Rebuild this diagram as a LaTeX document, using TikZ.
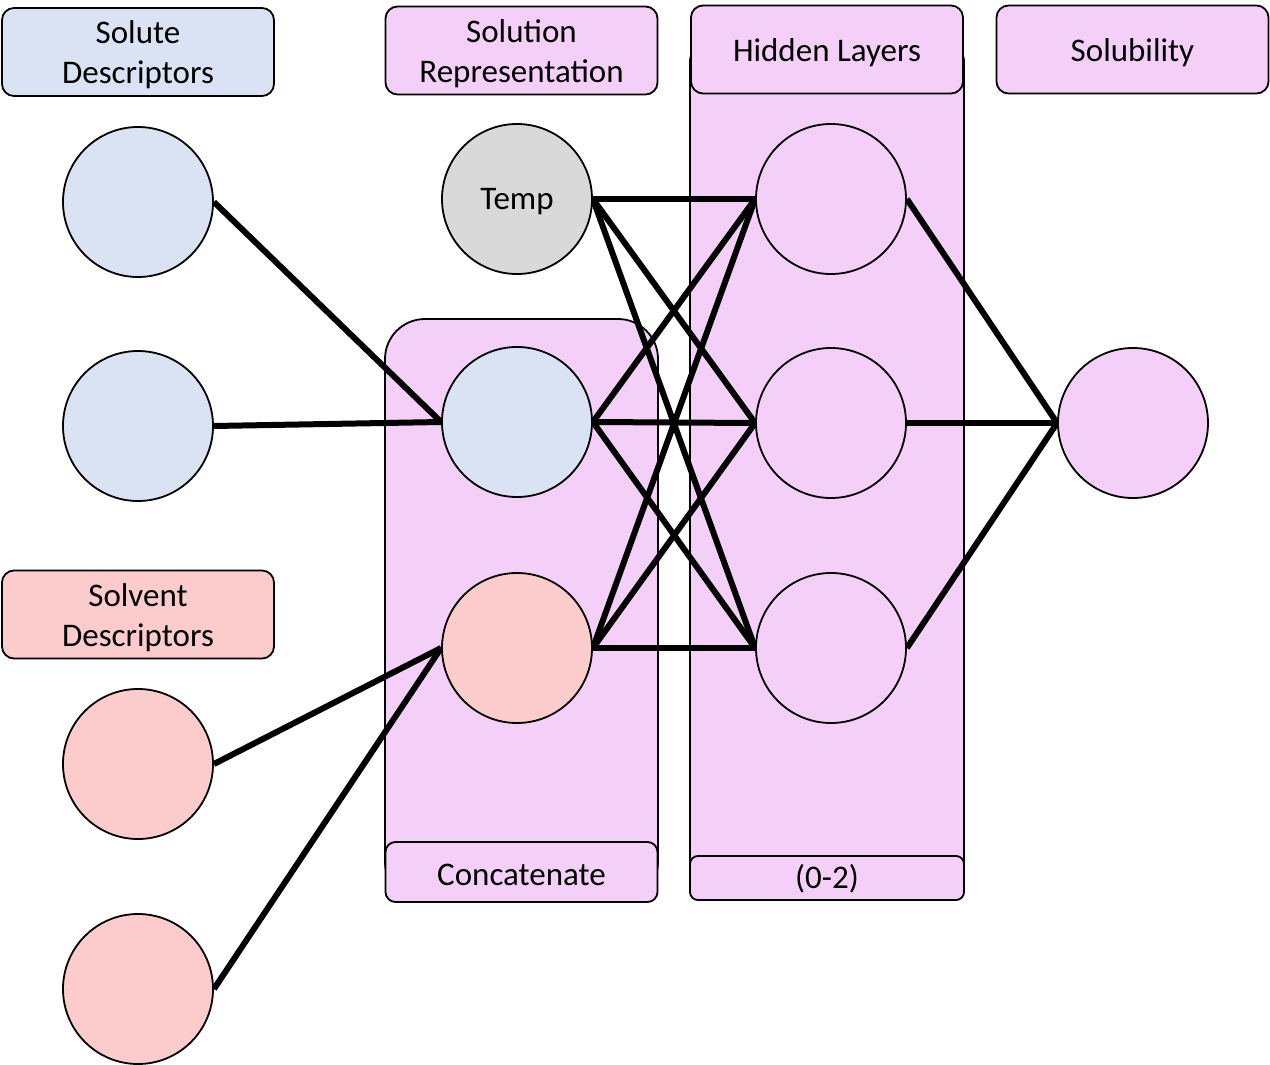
\documentclass[tikz,border=0pt]{standalone}
\usepackage{fontspec}
\setmainfont{Carlito}
\definecolor{sblue}{HTML}{DAE3F3}
\definecolor{sred}{HTML}{FCCCCC}
\definecolor{smag}{HTML}{F4D0F8}
\definecolor{sgray}{HTML}{D9D9D9}
\begin{document}
\begin{tikzpicture}[x=1pt,y=-1pt,
  lbl/.style={draw=black,line width=1.8pt,rounded corners=12pt,minimum width=272pt,minimum height=88pt,inner sep=0pt},
  txt/.style={align=center,inner sep=0pt,font=\fontsize{33}{40}\selectfont},
  neuron/.style={circle,draw=black,line width=1.8pt,minimum size=150pt,inner sep=0pt},
  conn/.style={line width=6pt}]
\useasboundingbox (0,0) rectangle (1270,1065);
% background panels
\draw[fill=smag,line width=1.8pt,rounded corners=40pt] (385,902) -- (385,319) -- (658,319) -- (658,902) -- cycle;
\draw[fill=smag,line width=1.8pt,rounded corners=10pt] (690,900) rectangle (964,50);
% header labels
\node[lbl,fill=sblue] (hsolute) at (138,52) {};
\node[lbl,fill=smag] (hsolrep) at (521.5,50.5) {};
\node[lbl,fill=smag] (hhidden) at (827,49.5) {};
\node[lbl,fill=smag] (hsolub) at (1132.5,49.5) {};
\node[lbl,fill=sred] (hsolvent) at (138,614.5) {};
\node[lbl,fill=smag,minimum height=60pt,rounded corners=10pt] (hconcat) at (521.5,872) {};
\node[lbl,fill=smag,minimum height=44pt,rounded corners=8pt,minimum width=274pt] (hrange) at (827,878) {};
\node[txt] at ([yshift=-3pt]hsolute.center) {Solute\\Descriptors};
\node[txt] at ([yshift=-3pt]hsolrep.center) {Solution\\Representation};
\node[txt] at ([yshift=-3pt]hhidden.center) {Hidden Layers};
\node[txt] at ([yshift=-3pt]hsolub.center) {Solubility};
\node[txt] at ([yshift=-3pt]hsolvent.center) {Solvent\\Descriptors};
\node[txt] at ([yshift=-3pt]hconcat.center) {Concatenate};
\node[txt] at ([yshift=-1pt]hrange.center) {(0-2)};
% coordinates for neurons
\coordinate (pa1) at (138,202);
\coordinate (pa2) at (138,426);
\coordinate (pb1) at (138,764);
\coordinate (pb2) at (138,989);
\coordinate (pt) at (517,199);
\coordinate (pc1) at (517,422);
\coordinate (pc2) at (517,648);
\coordinate (ph1) at (831,199);
\coordinate (ph2) at (831,423);
\coordinate (ph3) at (831,648);
\coordinate (po) at (1133,423);
% invisible anchors for the connectors
\node[neuron,draw=none,fill=none] (a1) at (pa1) {};
\node[neuron,draw=none,fill=none] (a2) at (pa2) {};
\node[neuron,draw=none,fill=none] (b1) at (pb1) {};
\node[neuron,draw=none,fill=none] (b2) at (pb2) {};
\node[neuron,draw=none,fill=none] (t) at (pt) {};
\node[neuron,draw=none,fill=none] (c1) at (pc1) {};
\node[neuron,draw=none,fill=none] (c2) at (pc2) {};
\node[neuron,draw=none,fill=none] (h1) at (ph1) {};
\node[neuron,draw=none,fill=none] (h2) at (ph2) {};
\node[neuron,draw=none,fill=none] (h3) at (ph3) {};
\node[neuron,draw=none,fill=none] (o) at (po) {};
\draw[conn] (a1.east) -- (c1.west);
\draw[conn] (a2.east) -- (c1.west);
\draw[conn] (b1.east) -- (c2.west);
\draw[conn] (b2.east) -- (c2.west);
\foreach \s in {t,c1,c2}{
  \foreach \d in {h1,h2,h3}{
    \draw[conn] (\s.east) -- (\d.west);
  }
}
\foreach \s in {h1,h2,h3}{
  \draw[conn] (\s.east) -- (o.west);
}
% visible neurons
\node[neuron,fill=sblue] at (pa1) {};
\node[neuron,fill=sblue] at (pa2) {};
\node[neuron,fill=sred] at (pb1) {};
\node[neuron,fill=sred] at (pb2) {};
\node[neuron,fill=sgray] (tv) at (pt) {};
\node[txt] at ([yshift=-3pt]tv.center) {Temp};
\node[neuron,fill=sblue] at (pc1) {};
\node[neuron,fill=sred] at (pc2) {};
\node[neuron,fill=smag] at (ph1) {};
\node[neuron,fill=smag] at (ph2) {};
\node[neuron,fill=smag] at (ph3) {};
\node[neuron,fill=smag] at (po) {};
\end{tikzpicture}
\end{document}
